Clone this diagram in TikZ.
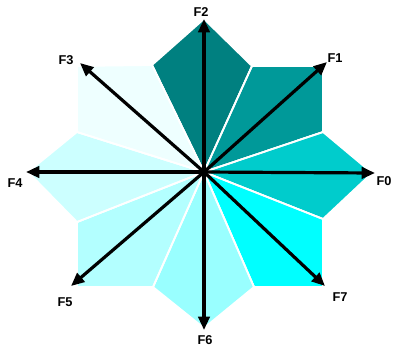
\documentclass[tikz,border=0pt]{standalone}
\usepackage{fontspec}
\setmainfont{Liberation Sans}
\usetikzlibrary{arrows.meta}
\definecolor{Teal2}{HTML}{008080}
\definecolor{Teal1}{HTML}{009999}
\definecolor{Teal0}{HTML}{00CCCC}
\definecolor{Teal7}{HTML}{00FFFF}
\definecolor{Teal6}{HTML}{99FFFF}
\definecolor{Teal5}{HTML}{B3FFFF}
\definecolor{Teal4}{HTML}{CCFFFF}
\definecolor{Teal3}{HTML}{EEFFFF}

\begin{document}
\begin{tikzpicture}[x=0.75pt,y=-0.75pt,font=\bfseries\fontsize{9.6}{11}\selectfont,
    petal/.style={draw=white,line width=1.3pt,line join=round},
    force/.style={line width=2.4pt,-{Triangle[length=10pt,width=8.5pt]}},
    flabel/.style={inner sep=0pt}]
  \useasboundingbox (0,0) rectangle (395,347);
  % centre and tips
  \coordinate (C) at (204,172);
  \coordinate (t0) at (375,173);
  \coordinate (t1) at (327,62);
  \coordinate (t2) at (204,19);
  \coordinate (t3) at (80,63);
  \coordinate (t4) at (26,172);
  \coordinate (t5) at (71,286);
  \coordinate (t6) at (204,330);
  \coordinate (t7) at (325,286);
  % petals
  \fill[petal,fill=Teal2] (C) -- (252,66) -- (204,19) -- (152,65) -- cycle;
  \fill[petal,fill=Teal1] (C) -- (323,132) -- (323,66) -- (252,66) -- cycle;
  \fill[petal,fill=Teal0] (C) -- (323,219) -- (372,173) -- (323,132) -- cycle;
  \fill[petal,fill=Teal7] (C) -- (254,287) -- (323,287) -- (323,219) -- cycle;
  \fill[petal,fill=Teal6] (C) -- (153,287) -- (204,328) -- (254,287) -- cycle;
  \fill[petal,fill=Teal5] (C) -- (77,222) -- (77,287) -- (153,287) -- cycle;
  \fill[petal,fill=Teal4] (C) -- (77,132) -- (28,172) -- (77,222) -- cycle;
  \fill[petal,fill=Teal3] (C) -- (152,65) -- (77,66) -- (77,132) -- cycle;
  \draw[petal] (C) -- (252,66) (C) -- (323,132) (C) -- (323,219) (C) -- (254,287)
    (C) -- (153,287) (C) -- (77,222) (C) -- (77,132) (C) -- (152,65);
  % forces
  \foreach \k in {0,...,7}
    \draw[force] (C) -- (t\k);
  % labels
  \node[flabel] (F0) at (384,181) {F0};
  \node[flabel] (F1) at (335,58) {F1};
  \node[flabel] (F2) at (201,12) {F2};
  \node[flabel] (F3) at (66,60) {F3};
  \node[flabel] (F4) at (15,183) {F4};
  \node[flabel] (F5) at (65,302) {F5};
  \node[flabel] (F6) at (205,340) {F6};
  \node[flabel] (F7) at (340,297) {F7};
\end{tikzpicture}
\end{document}
